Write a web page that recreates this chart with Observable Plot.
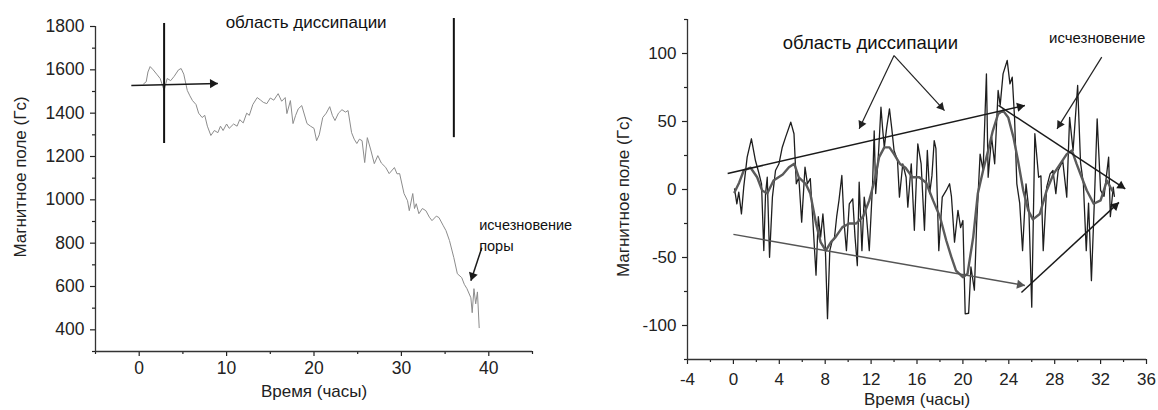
<!DOCTYPE html>
<html>
<head>
<meta charset="utf-8">
<script src="https://cdn.jsdelivr.net/npm/d3@7"></script>
<script src="https://cdn.jsdelivr.net/npm/@observablehq/plot@0.6"></script>
<style>
  html, body { margin: 0; padding: 0; background: #fff; }
  #wrap { display: flex; width: 1158px; height: 410px; overflow: hidden; }
</style>
</head>
<body>
<div id="wrap"></div>
<script>
// ---------- Labels ----------
const yLabel = "Магнитное поле (Гс)";
const xLabel = "Время (часы)";

// ---------- Left panel data ----------
const leftT = [0.5, 0.8, 1.0, 1.25, 1.6, 2.0, 2.4, 2.85, 3.2, 3.6, 4.0, 4.5, 4.8, 5.1, 5.5, 5.8, 6.1, 6.5, 6.8, 7.2, 7.5, 7.8, 8.2, 8.6, 9.0, 9.3, 9.6, 10.0, 10.3, 10.8, 11.2, 11.5, 11.9, 12.3, 12.6, 13.0, 13.5, 13.9, 14.2, 14.6, 15.0, 15.4, 15.9, 16.3, 16.7, 16.9, 17.3, 17.6, 17.9, 18.2, 18.6, 19.2, 19.6, 20.0, 20.3, 20.6, 21.0, 21.4, 21.8, 22.1, 22.4, 22.8, 23.2, 23.6, 23.9, 24.3, 24.6, 24.9, 25.2, 25.5, 25.8, 26.1, 26.5, 26.9, 27.3, 27.7, 28.2, 28.6, 29.2, 29.5, 29.8, 30.3, 30.7, 30.9, 31.3, 31.5, 31.7, 32.0, 32.4, 32.8, 33.2, 33.5, 34.0, 34.3, 34.8, 35.1, 35.5, 36.0, 36.4, 36.9, 37.2, 37.5, 37.95, 38.1, 38.3, 38.5, 38.7, 38.9];
const leftV = [1535, 1545, 1590, 1615, 1600, 1580, 1560, 1505, 1560, 1550, 1570, 1600, 1606, 1580, 1505, 1480, 1458, 1440, 1400, 1380, 1390, 1340, 1297, 1320, 1310, 1340, 1320, 1350, 1330, 1350, 1340, 1370, 1355, 1400, 1390, 1440, 1472, 1460, 1450, 1444, 1470, 1460, 1490, 1455, 1472, 1398, 1458, 1352, 1390, 1420, 1435, 1352, 1340, 1330, 1273, 1300, 1380, 1400, 1430, 1390, 1366, 1400, 1416, 1405, 1412, 1310, 1280, 1260, 1280, 1273, 1172, 1287, 1230, 1167, 1204, 1170, 1150, 1121, 1149, 1120, 1121, 1029, 996, 950, 1029, 960, 982, 936, 960, 950, 920, 904, 925, 918, 880, 858, 812, 733, 659, 641, 610, 590, 548, 479, 590, 520, 575, 410];

const leftYTicks = [400, 600, 800, 1000, 1200, 1400, 1600, 1800];
const leftYMinor = [300, 500, 700, 900, 1100, 1300, 1500, 1700];
const leftXTicks = [0, 10, 20, 30, 40];
const leftXMinor = [-5, 5, 15, 25, 35, 45];

const leftTitle = "область диссипации";
const leftNote1 = "исчезновение";
const leftNote2 = "поры";
// vertical bars bounding the dissipation region
const leftBarX = [2.85, 36];
const leftBarY1 = [1260, 1287];
const leftBarY2 = [1814, 1837];
// arrows
const leftArrX1 = [-0.9, 39.2];
const leftArrY1 = [1528, 779];
const leftArrX2 = [9.0, 37.95];
const leftArrY2 = [1537, 627];

// ---------- Right panel data ----------
const rawT = [0.1, 0.3, 0.47, 0.7, 0.9, 1.2, 1.57, 1.92, 2.2, 2.45, 2.65, 2.8, 2.95, 3.15, 3.4, 3.67, 3.97, 4.26, 4.55, 5.0, 5.28, 5.48, 5.7, 5.95, 6.24, 6.45, 6.7, 6.94, 7.2, 7.4, 7.6, 7.8, 8.0, 8.2, 8.4, 8.6, 8.8, 9.0, 9.2, 9.45, 9.65, 9.85, 10.1, 10.4, 10.6, 10.8, 10.96, 11.2, 11.4, 11.6, 11.84, 12.13, 12.27, 12.4, 12.66, 12.86, 13.0, 13.15, 13.35, 13.6, 13.8, 14.0, 14.3, 14.47, 14.76, 15.05, 15.2, 15.5, 15.77, 16.07, 16.36, 16.65, 16.9, 17.1, 17.3, 17.5, 17.65, 17.9, 18.2, 18.55, 18.84, 19.0, 19.27, 19.57, 19.8, 20.0, 20.2, 20.5, 20.7, 21.0, 21.2, 21.5, 21.76, 22.05, 22.2, 22.5, 22.77, 23.07, 23.25, 23.5, 23.86, 24.1, 24.3, 24.5, 24.7, 24.95, 25.2, 25.5, 25.75, 26.0, 26.27, 26.6, 26.8, 27.0, 27.3, 27.6, 27.85, 28.1, 28.3, 28.7, 29.05, 29.3, 29.6, 30.0, 30.25, 30.5, 30.75, 30.95, 31.2, 31.47, 31.7, 32.0, 32.3, 32.7, 32.85, 33.1, 33.2];
const rawV = [0.5, -10.5, -2, -17.9, 1.7, 23.8, 37.3, 21.3, 12.7, 4.2, -44.9, -3.2, 9, -49.8, -5.6, 14, 18.9, 31.1, 38.5, 49.5, 41, 4.2, 9, -24, 16.4, 4.2, 8, -25.2, -63, -20, -35, -18, -40, -95, -45, -38, -36, -20, -8, 10.3, -25, -45, -10.5, -6.9, -35, -56, 5.4, -45, -5.6, -20, -45, 4.2, 43, -3, 28.7, 60.5, 45, 31, 45, 59.3, 45, 28.7, 21.3, -5.6, 18.9, 9, -13, 18.9, -30, 33.6, 18.9, -30, 28.7, -3, 10, 36, 30, -45, -5.6, -0.7, 4.2, -5, -38.7, -15.4, -28, -22.8, -91.4, -91, -57, -74, -25, 26, 14, 85, 9, 38.5, 18.9, 72.8, 62, 85, 94.9, 77.7, 82.6, 53, 4.2, -10, -45, 4.2, -15, -86.5, 41, 9, 10, -45, 1.7, 11.5, 14, -3, 14, 21, -5.6, 53, 28.7, 76.5, 20, 4.2, -45, -10, -67, -5.6, 52, -0.7, -5, 23.8, -20, 1.7, -5];

const smoothT = [0.1, 0.5, 0.9, 1.5, 2.07, 2.5, 2.95, 3.5, 4.3, 4.84, 5.3, 5.7, 6.3, 6.7, 7.2, 7.6, 8.05, 8.5, 8.9, 9.5, 10.1, 10.7, 11.3, 11.84, 12.3, 12.7, 13.15, 13.6, 14.0, 14.5, 15.0, 15.6, 16.2, 16.8, 17.4, 18.0, 18.55, 19.0, 19.4, 20.0, 20.4, 20.9, 21.3, 21.76, 22.2, 22.6, 23.07, 23.5, 23.95, 24.4, 24.8, 25.26, 25.7, 26.1, 26.7, 27.3, 27.9, 28.5, 29.05, 29.5, 29.9, 30.35, 30.8, 31.4, 32.0, 32.55, 33.0];
const smoothV = [-2, 5, 14, 16, 9, -0.7, -3, 6.6, 11, 16.4, 19, 9, 4.2, -3, -25, -38.7, -45, -38.7, -35, -27.7, -25, -25, -20, -8, 6.6, 23.8, 31, 31, 26, 19, 16, 9, 9, 5, -8, -20, -37.5, -49.8, -59.6, -64.5, -62, -35, -3, 14, 28.7, 43, 55.6, 58, 53, 38.5, 21.3, -0.7, -15.4, -22, -18, -0.7, 11.5, 19, 26, 28.7, 19, 9, -0.7, -10.5, -8, 6.6, -0.7];

const rightYTicks = [-100, -50, 0, 50, 100];
const rightYMinor = [-125, -75, -25, 25, 75, 125];
const rightXTicks = [-4, 0, 4, 8, 12, 16, 20, 24, 28, 32, 36];
const rightXMinor = [-2, 2, 6, 10, 14, 18, 22, 26, 30, 34];

const rightTitle = "область диссипации";
const rightNote = "исчезновение";
// trend arrows and label arrows
const rightArrX1 = [-0.5, 23.1, 0, 25.1, 14.0, 14.0, 32.1];
const rightArrY1 = [11.8, 61.8, -33, -75.7, 98.5, 98.5, 97.3];
const rightArrX2 = [25.4, 34.15, 25.4, 33.6, 10.96, 18.4, 28.2];
const rightArrY2 = [61.8, 0.5, -70.6, -9.5, 44.6, 58, 44.6];
const rightArrKind = ["dark", "dark", "gray", "dark", "thin", "thin", "thin"];

// ---------- helpers ----------
const FONT = "'Liberation Sans', Arial, Helvetica, sans-serif";

function arrowMarks(x1, y1, x2, y2, kind, kx, ky, styleFor) {
  const data = x1.map((_, i) => {
    const px = (x2[i] - x1[i]) * kx, py = -(y2[i] - y1[i]) * ky;
    const len = Math.hypot(px, py), ux = px / len, uy = py / len;
    const back = 5.2; // centroid offset so apex sits on the end point
    return {
      x1: x1[i], y1: y1[i], x2: x2[i], y2: y2[i],
      hx: x2[i] - back * ux / kx, hy: y2[i] + back * uy / ky,
      rot: Math.atan2(ux, -uy) * 180 / Math.PI,
      kind: kind ? kind[i] : "dark"
    };
  });
  const marks = [];
  for (const k of ["dark", "gray", "thin"]) {
    const d = data.filter(a => a.kind === k);
    if (!d.length) continue;
    const s = styleFor(k);
    marks.push(Plot.link(d, {x1: "x1", y1: "y1", x2: "x2", y2: "y2", stroke: s.stroke, strokeWidth: s.width}));
    marks.push(Plot.dot(d, {x: "hx", y: "hy", rotate: "rot", symbol: "triangle", r: s.r, fill: s.stroke, stroke: "none"}));
  }
  return marks;
}

const styleFor = k => k === "gray" ? {stroke: "#555", width: 1.5, r: 3.4}
                   : k === "thin" ? {stroke: "#222", width: 1.2, r: 3.2}
                   : {stroke: "#1a1a1a", width: 1.5, r: 3.4};

// ---------- Left panel ----------
const L = {w: 580, h: 410, mL: 95, mR: 48, mT: 26, mB: 59, xd: [-5, 45], yd: [300, 1800]};
const Lkx = (L.w - L.mL - L.mR) / (L.xd[1] - L.xd[0]);
const Lky = (L.h - L.mT - L.mB) / (L.yd[1] - L.yd[0]);
const leftData = leftT.map((t, i) => ({t, v: leftV[i]}));
const leftBars = leftBarX.map((x, i) => ({x, y1: leftBarY1[i], y2: leftBarY2[i]}));

const left = Plot.plot({
  width: L.w, height: L.h,
  marginLeft: L.mL, marginRight: L.mR, marginTop: L.mT, marginBottom: L.mB,
  x: {domain: L.xd}, y: {domain: L.yd},
  style: {fontFamily: FONT, fontSize: "17px", color: "#222", background: "#fff", overflow: "visible"},
  marks: [
    Plot.axisY({ticks: leftYTicks, tickSize: 5, tickPadding: 6, tickFormat: d => String(d), label: null, fontSize: 17.5, strokeWidth: 1.2}),
    Plot.axisY({ticks: leftYMinor, tickSize: 3, text: null, label: null, strokeWidth: 1.2}),
    Plot.axisX({ticks: leftXTicks, tickSize: 5, tickPadding: 5, tickFormat: d => String(d), label: null, fontSize: 17.5, strokeWidth: 1.2}),
    Plot.axisX({ticks: leftXMinor, tickSize: 3, text: null, label: null, strokeWidth: 1.2}),
    Plot.ruleX([L.xd[0]], {stroke: "#333", strokeWidth: 1.3}),
    Plot.ruleY([L.yd[0]], {stroke: "#333", strokeWidth: 1.3}),
    Plot.text([yLabel], {frameAnchor: "left", textAnchor: "middle", lineAnchor: "middle", dx: -75, dy: -12, rotate: -90, fontSize: 17, fill: "#222"}),
    Plot.text([xLabel], {frameAnchor: "bottom", textAnchor: "middle", lineAnchor: "middle", dy: 40, fontSize: 17, fill: "#222"}),
    Plot.line(leftData, {x: "t", y: "v", stroke: "#8c8c8c", strokeWidth: 1}),
    Plot.ruleX(leftBars, {x: "x", y1: "y1", y2: "y2", stroke: "#111", strokeWidth: 2}),
    ...arrowMarks(leftArrX1, leftArrY1, leftArrX2, leftArrY2, null, Lkx, Lky, styleFor),
    Plot.text([{x: 19.1, y: 1818, s: leftTitle}], {x: "x", y: "y", text: "s", fontSize: 17, fill: "#111"}),
    Plot.text([{x: 38.9, y: 882, s: leftNote1}, {x: 38.9, y: 785, s: leftNote2}], {x: "x", y: "y", text: "s", textAnchor: "start", fontSize: 14.5, fill: "#111"})
  ]
});

// ---------- Right panel ----------
const R = {w: 578, h: 410, mL: 107, mR: 12, mT: 19, mB: 51, xd: [-4, 36], yd: [-125, 125]};
const Rkx = (R.w - R.mL - R.mR) / (R.xd[1] - R.xd[0]);
const Rky = (R.h - R.mT - R.mB) / (R.yd[1] - R.yd[0]);
const rawData = rawT.map((t, i) => ({t, v: rawV[i]}));
const smoothData = smoothT.map((t, i) => ({t, v: smoothV[i]}));

const right = Plot.plot({
  width: R.w, height: R.h,
  marginLeft: R.mL, marginRight: R.mR, marginTop: R.mT, marginBottom: R.mB,
  x: {domain: R.xd}, y: {domain: R.yd},
  style: {fontFamily: FONT, fontSize: "17px", color: "#222", background: "#fff", overflow: "visible"},
  marks: [
    Plot.axisY({ticks: rightYTicks, tickSize: 5, tickPadding: 6, tickFormat: d => String(d), label: null, fontSize: 17, strokeWidth: 1.2}),
    Plot.axisY({ticks: rightYMinor, tickSize: 3, text: null, label: null, strokeWidth: 1.2}),
    Plot.axisX({ticks: rightXTicks, tickSize: 5, tickPadding: 8, tickFormat: d => String(d), label: null, fontSize: 17, strokeWidth: 1.2}),
    Plot.axisX({ticks: rightXMinor, tickSize: 3, text: null, label: null, strokeWidth: 1.2}),
    Plot.ruleX([R.xd[0]], {stroke: "#333", strokeWidth: 1.3}),
    Plot.ruleY([R.yd[0]], {stroke: "#333", strokeWidth: 1.3}),
    Plot.text([yLabel], {frameAnchor: "left", textAnchor: "middle", lineAnchor: "middle", dx: -64, dy: 7, rotate: -90, fontSize: 17, fill: "#222"}),
    Plot.text([xLabel], {frameAnchor: "bottom", textAnchor: "middle", lineAnchor: "middle", dy: 40, fontSize: 17, fill: "#222"}),
    Plot.line(rawData, {x: "t", y: "v", stroke: "#1e1e1e", strokeWidth: 1.3}),
    Plot.line(smoothData, {x: "t", y: "v", stroke: "#5a5a5a", strokeWidth: 2.4}),
    ...arrowMarks(rightArrX1, rightArrY1, rightArrX2, rightArrY2, rightArrKind, Rkx, Rky, styleFor),
    Plot.text([{x: 11.94, y: 108, s: rightTitle}], {x: "x", y: "y", text: "s", fontSize: 18.5, fill: "#111"}),
    Plot.text([{x: 31.7, y: 111, s: rightNote}], {x: "x", y: "y", text: "s", fontSize: 15, fill: "#111"})
  ]
});

document.getElementById("wrap").append(left, right);
</script>
</body>
</html>
